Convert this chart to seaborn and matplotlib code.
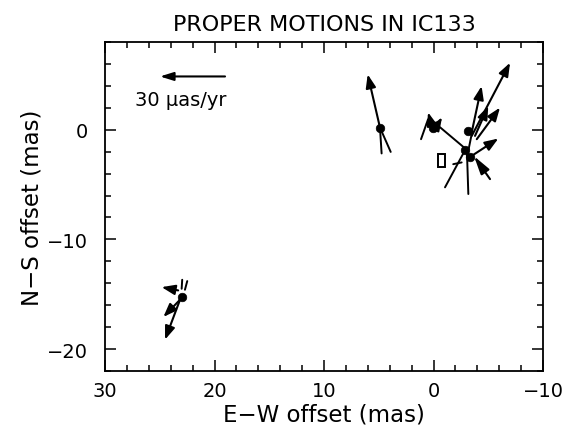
import matplotlib.pyplot as plt
import seaborn as sns
from matplotlib.patches import Rectangle
from matplotlib.ticker import MultipleLocator

# feature positions (mas)
dot_x = [4.89, 23.0, 0.05, -3.15, -2.88, -3.33]
dot_y = [0.2, -15.25, 0.14, -0.14, -1.86, -2.5]

# proper motion arrows: tail -> head (mas)
arr_x0 = [4.89, 23.32, 23.15, 23.15, -3.49, -3.49, -3.79, -3.95, -3.49, -5.16, 0.05, -0.23, -0.32]
arr_y0 = [0.2, -14.65, -15.5, -15.5, -0.56, -0.23, -0.56, -0.86, -2.38, -4.5, 0.05, 0.23, 0.32]
arr_x1 = [6.01, 24.83, 24.67, 24.52, -6.99, -4.39, -5.0, -6.07, -5.92, -3.7, 0.5, -0.78, 0.87]
arr_y1 = [5.05, -14.35, -17.07, -19.14, 6.11, 3.98, 2.16, 2.02, -0.8, -2.41, 1.59, 1.14, 0.59]

# plain segments (no head)
seg_x0 = [4.89, 4.89, 23.0, 22.7, -2.88, -3.06, -0.59, 0.5, -2.57, -3.06]
seg_y0 = [0.2, 0.2, -14.5, -14.59, -1.86, -2.23, 0.23, 0.95, -2.98, -2.5]
seg_x1 = [4.74, 3.91, 22.95, 22.49, -1.05, -3.18, -2.97, 1.14, -1.8, -3.52]
seg_y1 = [-2.16, -2.02, -13.68, -13.8, -5.25, -5.86, -1.77, -0.86, -3.14, -0.23]

# reference box
box_x, box_y, box_w, box_h = -0.4, -3.4, -0.65, 1.15

# scale arrow
scale_x0, scale_x1, scale_y = 19.04, 24.98, 4.86
scale_label = "30 μas/yr"

sns.set_style("ticks")
plt.rcParams['font.family'] = ['DejaVu Sans']
plt.rcParams.update({'text.color': 'black', 'axes.labelcolor': 'black',
                     'axes.edgecolor': 'black', 'xtick.color': 'black',
                     'ytick.color': 'black', 'axes.linewidth': 1.3})

fig = plt.figure(figsize=(5.67, 4.39), dpi=100)
ax = fig.add_axes([0.1852, 0.1526, 0.7725, 0.7494])

for x0, y0, x1, y1 in zip(seg_x0, seg_y0, seg_x1, seg_y1):
    ax.plot([x0, x1], [y0, y1], color='black', lw=1.4)

for i, (x0, y0, x1, y1) in enumerate(zip(arr_x0, arr_y0, arr_x1, arr_y1)):
    hl = 1.1 if i == 9 else 0.8
    ax.annotate("", xy=(x1, y1), xytext=(x0, y0),
                arrowprops=dict(arrowstyle=f"-|>,head_length={hl},head_width=0.3",
                                color='black', lw=1.5, shrinkA=0, shrinkB=0,
                                mutation_scale=10))

sns.scatterplot(x=dot_x, y=dot_y, color='black', s=38, edgecolor='black', ax=ax, zorder=3)

ax.add_patch(Rectangle((box_x, box_y), box_w, box_h, fill=False, ec='black', lw=1.4))

ax.annotate("", xy=(scale_x1, scale_y), xytext=(scale_x0, scale_y),
            arrowprops=dict(arrowstyle="-|>,head_length=0.8,head_width=0.25",
                            color='black', lw=1.5, shrinkA=0, shrinkB=0, mutation_scale=10))
ax.text(27.3, 2.8, scale_label, fontsize=14, ha='left', va='center')

ax.set_xlim(30, -10)
ax.set_ylim(-22, 8)
ax.xaxis.set_major_locator(MultipleLocator(10))
ax.xaxis.set_minor_locator(MultipleLocator(2))
ax.yaxis.set_major_locator(MultipleLocator(10))
ax.yaxis.set_minor_locator(MultipleLocator(2))
ax.tick_params(which='both', direction='in', top=True, right=True, width=1.1, labelsize=14)
ax.tick_params(axis='x', which='major', length=8, pad=7)
ax.tick_params(axis='y', which='major', length=8, pad=12)
ax.tick_params(which='minor', length=4)

ax.set_xlabel("E−W offset (mas)", fontsize=16.5, labelpad=2)
ax.set_ylabel("N−S offset (mas)", fontsize=16.5, labelpad=3)
ax.set_title("PROPER MOTIONS IN IC133", fontsize=16, pad=9)

fig.savefig("out.png", dpi=100)
